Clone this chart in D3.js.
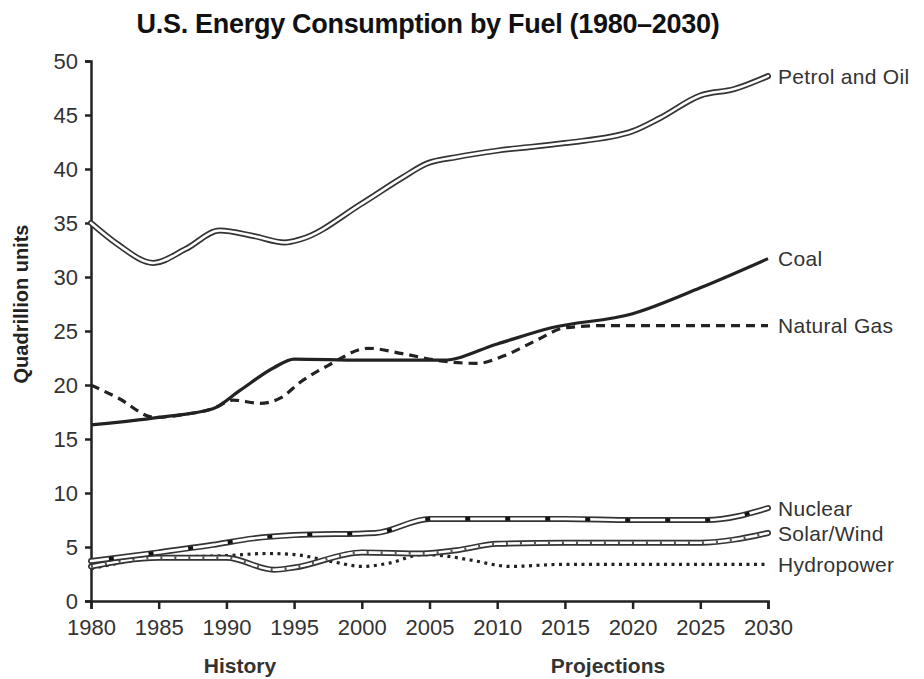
<!DOCTYPE html>
<html>
<head>
<meta charset="utf-8">
<script src="https://cdn.jsdelivr.net/npm/d3@7"></script>
<style>
  body { margin: 0; background: #fff; }
  svg { display: block; font-family: "Liberation Sans", Arial, sans-serif; }
</style>
</head>
<body>
<script>
// data (quadrillion units)
const petrolYears = [1980, 1982, 1984.6, 1987, 1989.5, 1992, 1994.3, 1995.5, 2000, 2003, 2004.8, 2007, 2010, 2015, 2020, 2022, 2025, 2027.5, 2030]
const petrolVals  = [35.0, 33.0, 31.3, 32.6, 34.3, 33.8, 33.2, 33.5, 36.8, 39.2, 40.5, 41.1, 41.7, 42.4, 43.5, 44.7, 46.8, 47.4, 48.6]

const coalYears = [1980, 1985, 1989, 1991, 1993.5, 1995, 2000, 2006, 2010, 2014, 2020, 2025, 2030]
const coalVals  = [16.3, 17.0, 17.8, 19.5, 21.6, 22.4, 22.3, 22.3, 23.8, 25.3, 26.6, 29.0, 31.7]

const gasYears = [1980, 1982, 1984.7, 1987, 1989, 1990.5, 1992.5, 1994, 1995.5, 1997.5, 2000.5, 2003, 2006, 2008.5, 2010.5, 2013, 2015, 2018, 2030]
const gasVals  = [20.0, 18.8, 17.0, 17.3, 17.8, 18.6, 18.3, 18.8, 20.3, 21.8, 23.4, 22.9, 22.2, 22.0, 22.7, 24.2, 25.3, 25.5, 25.5]

const nuclearYears = [1980, 1985, 1989, 1992, 1995, 2001, 2005, 2010, 2015, 2020, 2025.5, 2030]
const nuclearVals  = [3.7, 4.5, 5.2, 5.8, 6.1, 6.3, 7.6, 7.6, 7.6, 7.5, 7.5, 8.6]

const solarYears = [1980, 1985, 1990, 1993.5, 1995, 2000, 2004.5, 2007, 2010, 2015, 2025, 2030]
const solarVals  = [3.2, 4.0, 4.0, 2.9, 3.1, 4.5, 4.4, 4.7, 5.3, 5.4, 5.4, 6.3]

const hydroYears = [1980, 1985, 1990, 1993, 1995, 1998, 2000, 2002, 2004.5, 2006, 2008, 2011, 2015, 2030]
const hydroVals  = [3.0, 4.0, 4.2, 4.4, 4.3, 3.6, 3.2, 3.5, 4.3, 4.2, 3.8, 3.2, 3.4, 3.4]

const seriesNames = ["Petrol and Oil", "Coal", "Natural Gas", "Nuclear", "Solar/Wind", "Hydropower"]
const xTicks = [1980, 1985, 1990, 1995, 2000, 2005, 2010, 2015, 2020, 2025, 2030]
const yTicks = [0, 5, 10, 15, 20, 25, 30, 35, 40, 45, 50]

const w = 924
const h = 679
const plotL = 91, plotR = 768, plotT = 61, plotB = 601

const svg = d3.select("body").append("svg")
  .attr("width", w)
  .attr("height", h)

const xScale = d3.scaleLinear().domain([1980, 2030]).range([plotL, plotR])
const yScale = d3.scaleLinear().domain([0, 50]).range([plotB, plotT])

const zip = (ys, vs) => ys.map((y, i) => [y, vs[i]])
const line = d3.line()
  .x(d => xScale(d[0]))
  .y(d => yScale(d[1]))
  .curve(d3.curveMonotoneX)

const ink = "#222"

// title
svg.append("text")
  .attr("x", 428).attr("y", 33)
  .attr("text-anchor", "middle")
  .style("font-size", "27px").style("font-weight", "bold")
  .style("letter-spacing", "-0.3px")
  .attr("fill", "#111")
  .text("U.S. Energy Consumption by Fuel (1980\u20132030)")

// axes
const xAxis = d3.axisBottom(xScale).tickValues(xTicks).tickFormat(d3.format("d")).tickSize(8).tickPadding(10)
const gx = svg.append("g").attr("transform", `translate(0,${plotB})`).call(xAxis)

const yAxis = d3.axisLeft(yScale).tickValues(yTicks).tickSize(6).tickPadding(7)
const gy = svg.append("g").attr("transform", `translate(${plotL},0)`).call(yAxis)

for (const g of [gx, gy]) {
  g.selectAll("path, line").attr("stroke", ink).attr("stroke-width", 2.5)
  g.selectAll("text").attr("fill", "#333").style("font-size", "22px").style("font-family", "Liberation Sans, Arial, sans-serif")
}

svg.append("text")
  .attr("transform", "translate(28,304) rotate(-90)")
  .attr("text-anchor", "middle")
  .style("font-size", "20px").style("font-weight", "bold")
  .attr("fill", "#222")
  .text("Quadrillion units")

svg.append("text").attr("x", 240).attr("y", 673).attr("text-anchor", "middle")
  .style("font-size", "21px").style("font-weight", "bold").attr("fill", "#333").text("History")
svg.append("text").attr("x", 608).attr("y", 673).attr("text-anchor", "middle")
  .style("font-size", "21px").style("font-weight", "bold").attr("fill", "#333").text("Projections")

// double-walled line helper
function hollow(data, inner) {
  const g = svg.append("g")
  g.append("path").datum(data).attr("d", line)
    .attr("fill", "none").attr("stroke", "#333").attr("stroke-width", 6).attr("stroke-linecap", "round")
  g.append("path").datum(data).attr("d", line)
    .attr("fill", "none").attr("stroke", "#fff").attr("stroke-width", 2.6).attr("stroke-linecap", "round")
  if (inner) {
    g.append("path").datum(data).attr("d", line)
      .attr("fill", "none").attr("stroke", inner.color).attr("stroke-width", inner.width)
      .attr("stroke-dasharray", inner.dash)
  }
}

const petrol = zip(petrolYears, petrolVals)
const coal = zip(coalYears, coalVals)
const gas = zip(gasYears, gasVals)
const nuclear = zip(nuclearYears, nuclearVals)
const solar = zip(solarYears, solarVals)
const hydro = zip(hydroYears, hydroVals)

// hydropower dotted
svg.append("path").datum(hydro).attr("d", line)
  .attr("fill", "none").attr("stroke", ink).attr("stroke-width", 3.2)
  .attr("stroke-dasharray", "3,4.5")

hollow(solar, { color: "#555", width: 3, dash: "2,12" })
hollow(nuclear, { color: "#111", width: 3.6, dash: "0,18,5,17" })

// natural gas dashed
svg.append("path").datum(gas).attr("d", line)
  .attr("fill", "none").attr("stroke", ink).attr("stroke-width", 3.2)
  .attr("stroke-dasharray", "9,6")

// coal solid
svg.append("path").datum(coal).attr("d", line)
  .attr("fill", "none").attr("stroke", ink).attr("stroke-width", 3.2)

hollow(petrol)

// end labels
const ends = [petrol, coal, gas, nuclear, solar, hydro]
svg.selectAll(".lbl").data(seriesNames).enter().append("text")
  .attr("class", "lbl")
  .attr("x", xScale(2030) + 10)
  .attr("y", (d, i) => yScale(ends[i][ends[i].length - 1][1]) + 2)
  .attr("dominant-baseline", "middle")
  .style("font-size", "21px")
  .style("letter-spacing", "0.3px")
  .attr("fill", "#333")
  .text(d => d)
</script>
</body>
</html>
